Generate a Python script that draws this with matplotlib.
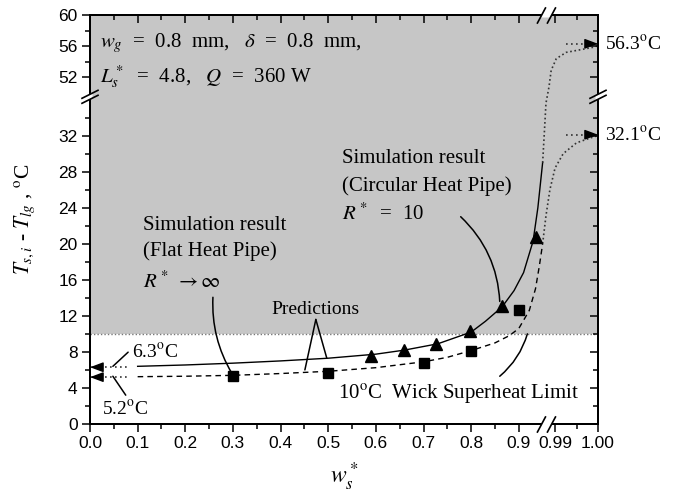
import numpy as np
import matplotlib
matplotlib.use("Agg")
import matplotlib.pyplot as plt
from matplotlib.lines import Line2D
from matplotlib.patches import Polygon

# ---------------- data ----------------
sim_flat_x = [0.30, 0.50, 0.70, 0.80, 0.90]
sim_flat_y = [5.35, 5.70, 6.75, 8.10, 12.6]
sim_circ_x = [0.59, 0.66, 0.727, 0.797, 0.864, 0.936]
sim_circ_y = [7.6, 8.2, 8.9, 10.3, 13.1, 20.7]

pred_circ_x = [0.10, 0.20, 0.30, 0.40, 0.50, 0.60, 0.66, 0.73, 0.80, 0.83, 0.865,
               0.89, 0.91, 0.93, 0.94, 0.95]
pred_circ_y = [6.4, 6.55, 6.75, 7.0, 7.3, 7.75, 8.2, 8.9, 10.2, 11.4, 13.0,
               14.8, 16.8, 20.3, 24.0, 29.0]
pred_circ_ext_x = [0.95, 0.954, 0.957, 0.9886, 0.9891, 0.9903, 0.9926, 0.9965, 0.9993, 1.0]
pred_circ_ext_y = [29.0, 32.7, 35.6, 50.8, 52.9, 54.4, 55.2, 55.6, 55.9, 56.1]

pred_flat_x = [0.10, 0.20, 0.30, 0.40, 0.50, 0.60, 0.70, 0.75, 0.80, 0.85, 0.88,
               0.90, 0.922, 0.935, 0.943, 0.95]
pred_flat_y = [5.25, 5.3, 5.4, 5.6, 5.85, 6.25, 6.9, 7.4, 8.15, 9.0, 9.8,
               10.6, 12.6, 15.0, 17.5, 20.0]
pred_flat_ext_x = [0.95, 0.957, 0.9888, 0.990, 0.9919, 0.995, 0.9986, 1.0]
pred_flat_ext_y = [20.0, 23.1, 26.0, 28.4, 30.0, 31.2, 31.8, 32.0]

limit_value = 10
left_values = [6.3, 5.2]
left_labels = ["6.3$^\\mathrm{o}$C", "5.2$^\\mathrm{o}$C"]
left_ext_x = [0.0, 0.085]
right_values = [56.3, 32.1]
right_labels = ["56.3$^\\mathrm{o}$C", "32.1$^\\mathrm{o}$C"]
right_ext_x = [0.9925, 1.0]

x_major = [0.0, 0.1, 0.2, 0.3, 0.4, 0.5, 0.6, 0.7, 0.8, 0.9, 0.99, 1.00]
x_major_labels = ["0.0", "0.1", "0.2", "0.3", "0.4", "0.5", "0.6", "0.7", "0.8", "0.9", "0.99", "1.00"]
x_minor = [0.05, 0.15, 0.25, 0.35, 0.45, 0.55, 0.65, 0.75, 0.85, 0.995]
y_major = [0, 4, 8, 12, 16, 20, 24, 28, 32, 52, 56, 60]
y_minor = [2, 6, 10, 14, 18, 22, 26, 30, 34, 54, 58]

# ---------------- broken scales ----------------
XA, XB, XK = 0.958, 0.988, 4300.0 / 477.0
YA, YB, YK = 36.3, 49.5, 7.8 / 9.03
EPS = 0.001


def make_scale(a, b, k):
    g = (b - a) * EPS

    def fwd(v):
        v = np.asarray(v, dtype=float)
        return np.where(v <= a, v, np.where(v < b, a + (v - a) * EPS, a + g + (v - b) * k))

    def inv(u):
        u = np.asarray(u, dtype=float)
        return np.where(u <= a, u, np.where(u < a + g, a + (u - a) / EPS, b + (u - a - g) / k))
    return fwd, inv


fxs = make_scale(XA, XB, XK)
fys = make_scale(YA, YB, YK)

plt.rcParams["mathtext.fontset"] = "stix"
SERIF = ["Liberation Serif", "DejaVu Serif"]
SANS = ["Liberation Sans", "DejaVu Sans"]

fig = plt.figure(figsize=(6.76, 4.95), dpi=100)
ax = fig.add_axes([90 / 676, 1 - 424 / 495, 508 / 676, 409 / 495])
ax.set_xscale("function", functions=fxs)
ax.set_yscale("function", functions=fys)
ax.set_xlim(0, 1.0)
ax.set_ylim(0, 60)

# shaded region above superheat limit
ax.axhspan(limit_value, 60, color="#c6c6c6", lw=0, zorder=0)
ax.axhline(limit_value, color="#777777", lw=1.0, ls=(0, (1, 1.5)), zorder=1)

# predictions
ax.plot(pred_circ_x, pred_circ_y, color="k", lw=1.0, zorder=3)
ax.plot(pred_circ_ext_x, pred_circ_ext_y, color="#333333", lw=1.2, ls=(0, (1, 1.6)), zorder=3)
ax.plot(pred_flat_x, pred_flat_y, color="k", lw=1.0, ls=(0, (4, 3)), zorder=3)
ax.plot(pred_flat_ext_x, pred_flat_ext_y, color="#333333", lw=1.2, ls=(0, (1, 1.6)), zorder=3)

# simulation
ax.plot(sim_circ_x, sim_circ_y, ls="none", marker="^", ms=9, color="k", zorder=4)
ax.plot(sim_flat_x, sim_flat_y, ls="none", marker="s", ms=7, color="k", zorder=4)

# extrapolation arrows
arrow_kw = dict(arrowstyle="-|>,head_length=0.8,head_width=0.3", color="k", lw=1.0,
                shrinkA=0, shrinkB=0, mutation_scale=10)
for v in left_values:
    ax.plot(left_ext_x, [v, v], color="#333333", lw=1.2, ls=(0, (1, 2)), zorder=3, clip_on=False)
    ax.annotate("", xy=(0.0, v), xytext=(8, 0), textcoords="offset points",
                arrowprops=arrow_kw, annotation_clip=False, zorder=5)
for v, lab in zip(right_values, right_labels):
    ax.plot(right_ext_x, [v, v], color="#333333", lw=1.2, ls=(0, (1, 2)), zorder=3, clip_on=False)
    ax.annotate("", xy=(1.0, v), xytext=(-8, 0), textcoords="offset points",
                arrowprops=arrow_kw, annotation_clip=False, zorder=5)
    ax.annotate(lab, xy=(1.0, v), xytext=(5, 0), textcoords="offset points",
                va="center", ha="left", fontsize=14, family=SERIF, annotation_clip=False)

# ---------------- text annotations ----------------
tkw = dict(fontsize=15, family=SERIF, ha="left", va="center")
ax.text(0.021, 56.4, "$w_g$  =  0.8  mm,   $\\delta$  =  0.8  mm,", **tkw)
ax.text(0.021, 52.06, "$L_s^*$  =  4.8,   $Q$  =  360 W", **tkw)

ax.text(0.111, 22.0, "Simulation result", **tkw)
ax.text(0.111, 19.2, "(Flat Heat Pipe)", **tkw)
ax.text(0.111, 15.8, "$R^*\\ \\rightarrow\\infty$", **tkw)

ax.text(0.528, 29.5, "Simulation result", **tkw)
ax.text(0.528, 26.4, "(Circular Heat Pipe)", **tkw)
ax.text(0.528, 23.3, "$R^*$  =  10", **tkw)

ax.text(0.474, 12.7, "Predictions", fontsize=14, family=SERIF, ha="center", va="center")
ax.text(0.52, 3.3, "10$^\\mathrm{o}$C  Wick Superheat Limit", **tkw)
ax.text(0.088, 8.0, left_labels[0], fontsize=14, family=SERIF, ha="left", va="center")
ax.text(0.025, 1.66, left_labels[1], fontsize=14, family=SERIF, ha="left", va="center")

lkw = dict(arrowstyle="-", color="k", lw=1.1, shrinkA=0, shrinkB=0)
ax.annotate("", xy=(0.048, 6.4), xytext=(0.080, 7.97), arrowprops=lkw)
ax.annotate("", xy=(0.048, 5.3), xytext=(0.075, 3.2), arrowprops=lkw)
ax.annotate("", xy=(0.298, 5.6), xytext=(0.258, 14.06),
            arrowprops=dict(lkw, connectionstyle="arc3,rad=0.15"))
ax.annotate("", xy=(0.860, 13.6), xytext=(0.778, 23.0),
            arrowprops=dict(lkw, connectionstyle="arc3,rad=-0.2"))
ax.annotate("", xy=(0.451, 6.0), xytext=(0.474, 11.6), arrowprops=lkw)
ax.annotate("", xy=(0.497, 7.3), xytext=(0.474, 11.6), arrowprops=lkw)
ax.annotate("", xy=(0.918, 10.0), xytext=(0.860, 5.3),
            arrowprops=dict(lkw, connectionstyle="arc3,rad=0.15"))

# ---------------- axes / ticks ----------------
for s in ax.spines.values():
    s.set_linewidth(1.3)
ax.set_xticks(x_major)
ax.set_xticklabels(x_major_labels)
ax.set_xticks(x_minor, minor=True)
ax.set_yticks(y_major)
ax.set_yticks(y_minor, minor=True)
ax.tick_params(which="both", direction="out", top=False, right=False, width=1.1)
ax.tick_params(which="major", length=6, labelsize=12.5, pad=3)
ax.tick_params(which="minor", length=3.5)
for lab in ax.get_xticklabels() + ax.get_yticklabels():
    lab.set_family(SANS)

axt = ax.twiny()
axt.set_xscale("function", functions=fxs)
axt.set_xlim(0, 1.0)
axt.set_xticks(x_major)
axt.set_xticks(x_minor, minor=True)
axt.tick_params(which="both", direction="in", labeltop=False, top=True, bottom=False, width=1.1)
axt.tick_params(which="major", length=6)
axt.tick_params(which="minor", length=3.5)

axr = ax.twinx()
axr.set_yscale("function", functions=fys)
axr.set_ylim(0, 60)
axr.set_yticks(y_major)
axr.set_yticks(y_minor, minor=True)
axr.tick_params(which="both", direction="in", labelright=False, right=True, left=False, width=1.1)
axr.tick_params(which="major", length=6)
axr.tick_params(which="minor", length=3.5)
for a in (axt, axr):
    for s in a.spines.values():
        s.set_linewidth(1.3)

ax.set_xlabel("$w_s^*$", fontsize=17, family=SERIF)
ax.xaxis.set_label_coords(0.5, -0.09)
ax.set_ylabel("$T_{s,i}$ - $T_{lg}$ , $^\\mathrm{o}$C", fontsize=15.5, family=SERIF)
ax.yaxis.set_label_coords(-0.105, 0.5)

# ---------------- break marks (pixel geometry) ----------------
fig.canvas.draw()
bb = ax.bbox
xm = ax.transData.transform((np.sqrt(XA * XB), 1.0))[0]
ym = ax.transData.transform((0.5, (YA + YB) / 2))[1]


def xbreak(cx, cy):
    h1, h2 = -8.0, 7.0
    l1 = ((cx - 9, cy + h1), (cx - 1, cy + h2))
    l2 = ((cx + 1, cy + h1), (cx + 9, cy + h2))

    def at(l, t):
        (x1, y1), (x2, y2) = l
        return x1 + (t - y1) / (y2 - y1) * (x2 - x1)
    poly = [(at(l1, cy - 2.5), cy - 2.5), (at(l2, cy - 2.5), cy - 2.5),
            (at(l2, cy + 2.5), cy + 2.5), (at(l1, cy + 2.5), cy + 2.5)]
    fig.add_artist(Polygon(poly, closed=True, fc="white", ec="none", transform=None, zorder=10))
    for l in (l1, l2):
        fig.add_artist(Line2D([l[0][0], l[1][0]], [l[0][1], l[1][1]], color="k", lw=1.2,
                              transform=None, zorder=11))


def ybreak(cx, cy):
    l1 = ((cx - 8, cy - 6.5), (cx + 8, cy + 1.5))
    l2 = ((cx - 8, cy - 1.5), (cx + 8, cy + 6.5))

    def at(l, t):
        (x1, y1), (x2, y2) = l
        return y1 + (t - x1) / (x2 - x1) * (y2 - y1)
    poly = [(cx - 2.5, at(l1, cx - 2.5)), (cx + 2.5, at(l1, cx + 2.5)),
            (cx + 2.5, at(l2, cx + 2.5)), (cx - 2.5, at(l2, cx - 2.5))]
    fig.add_artist(Polygon(poly, closed=True, fc="white", ec="none", transform=None, zorder=10))
    for l in (l1, l2):
        fig.add_artist(Line2D([l[0][0], l[1][0]], [l[0][1], l[1][1]], color="k", lw=1.2,
                              transform=None, zorder=11))


xbreak(xm, bb.y0)
xbreak(xm, bb.y1)
ybreak(bb.x0, ym)
ybreak(bb.x1, ym)

fig.savefig("out.png", dpi=100)
